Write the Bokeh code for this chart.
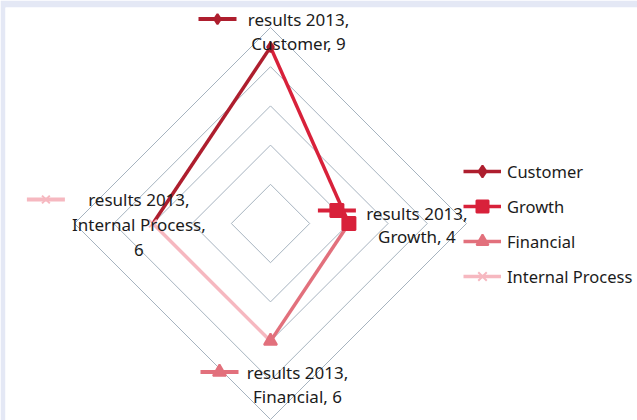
import math
from bokeh.plotting import figure
from bokeh.models import Range1d, Legend, LegendItem, ColumnDataSource
from bokeh.core.properties import value
from bokeh.embed import file_html
from bokeh.resources import INLINE

# ---- data ----
categories = ["Customer", "Growth", "Financial", "Internal Process"]
values = [9, 4, 6, 6]
series_name = "results 2013"
angles_deg = [90, 0, 270, 180]
colors = ["#AE1E2E", "#D8213A", "#E2707C", "#F6B8C0"]
markers = ["diamond", "square", "triangle", "x"]
marker_sizes = [10, 13, 13, 11]
grid_levels = [2, 4, 6, 8, 10]

# ---- layout ----
W, H = 637, 420
BL, BT = 5, 7            # lavender border left/top
FW, FH = W - BL, H - BT  # frame size
U = 19.6                 # pixels per value unit
CX, CY = 265, 216        # centre in frame pixels (from top-left)
FONT = "Noto Sans"
FS = "17px"
TXT = "#1b1b1b"

p = figure(width=W, height=H, output_backend="svg", toolbar_location=None,
           x_range=Range1d(-CX / U, (FW - CX) / U),
           y_range=Range1d(-(FH - CY) / U, CY / U),
           x_axis_location=None, y_axis_location=None,
           min_border_left=BL, min_border_top=BT, min_border_right=0, min_border_bottom=0,
           background_fill_color="white", border_fill_color="#E4E8F5")
p.grid.visible = False
p.outline_line_color = None

def pt(a, r):
    t = math.radians(a)
    return r * math.cos(t), r * math.sin(t)

# grid diamonds
gx, gy = [], []
for lv in grid_levels:
    xs, ys = [], []
    for a in angles_deg + [angles_deg[0]]:
        x, y = pt(a, lv)
        xs.append(x); ys.append(y)
    gx.append(xs); gy.append(ys)
p.multi_line(gx, gy, line_color="#A6B3BF", line_width=1)

# series points
px = [pt(a, v)[0] for a, v in zip(angles_deg, values)]
py = [pt(a, v)[1] for a, v in zip(angles_deg, values)]

# segments: segment ending at point i has colour i
n = len(values)
seg_x = [[px[i - 1], px[i]] for i in range(n)]
seg_y = [[py[i - 1], py[i]] for i in range(n)]
seg_src = ColumnDataSource(dict(xs=seg_x, ys=seg_y, color=colors))
ml = p.multi_line("xs", "ys", source=seg_src, line_color="color", line_width=3.5)

pt_src = ColumnDataSource(dict(x=px, y=py, color=colors, marker=markers, size=marker_sizes))
sc = p.scatter("x", "y", source=pt_src, marker="marker", size="size",
               fill_color="color", line_color="color", line_width=2)

# data labels with legend keys (offsets in pixels relative to point)
label_text_off = [(28, [-28, -4]), (68, [-10, 13]), (27, [31, 55]), (-14, [-24, 1, 26])]
label_key_off = [(-53, -28), (-12, -13), (-51, 31), (-107, -24)]
KEYW = 38
for i, cat in enumerate(categories):
    lines = [series_name + ",", f"{cat}, {values[i]}"]
    if cat == "Internal Process":
        lines = [series_name + ",", f"{cat},", f"{values[i]}"]
    dx, dys = label_text_off[i]
    for ln, dy in zip(lines, dys):
        p.text(x=[px[i] + dx / U], y=[py[i] - dy / U], text=[ln],
               text_font=value(FONT), text_font_size=FS, text_color=TXT,
               text_align="center", text_baseline="middle")
    kx, ky = label_key_off[i]
    x0 = px[i] + (kx - KEYW / 2) / U
    x1 = px[i] + (kx + KEYW / 2) / U
    yk = py[i] - ky / U
    p.segment(x0=[x0], y0=[yk], x1=[x1], y1=[yk], line_color=colors[i], line_width=4)
    p.scatter(x=[(x0 + x1) / 2], y=[yk], marker=markers[i], size=marker_sizes[i],
              fill_color=colors[i], line_color=colors[i], line_width=2)

items = [LegendItem(label=cat, renderers=[ml, sc], index=i) for i, cat in enumerate(categories)]
legend = Legend(items=items, location=(458, 129), orientation="vertical",
                glyph_width=38, glyph_height=30, label_height=30, spacing=5,
                label_standoff=6, padding=0, margin=0,
                border_line_color=None, background_fill_alpha=0,
                label_text_font=FONT, label_text_font_size="16.5px", label_text_color=TXT)
p.add_layout(legend, "center")

open("out.html", "w").write(file_html(p, INLINE))
